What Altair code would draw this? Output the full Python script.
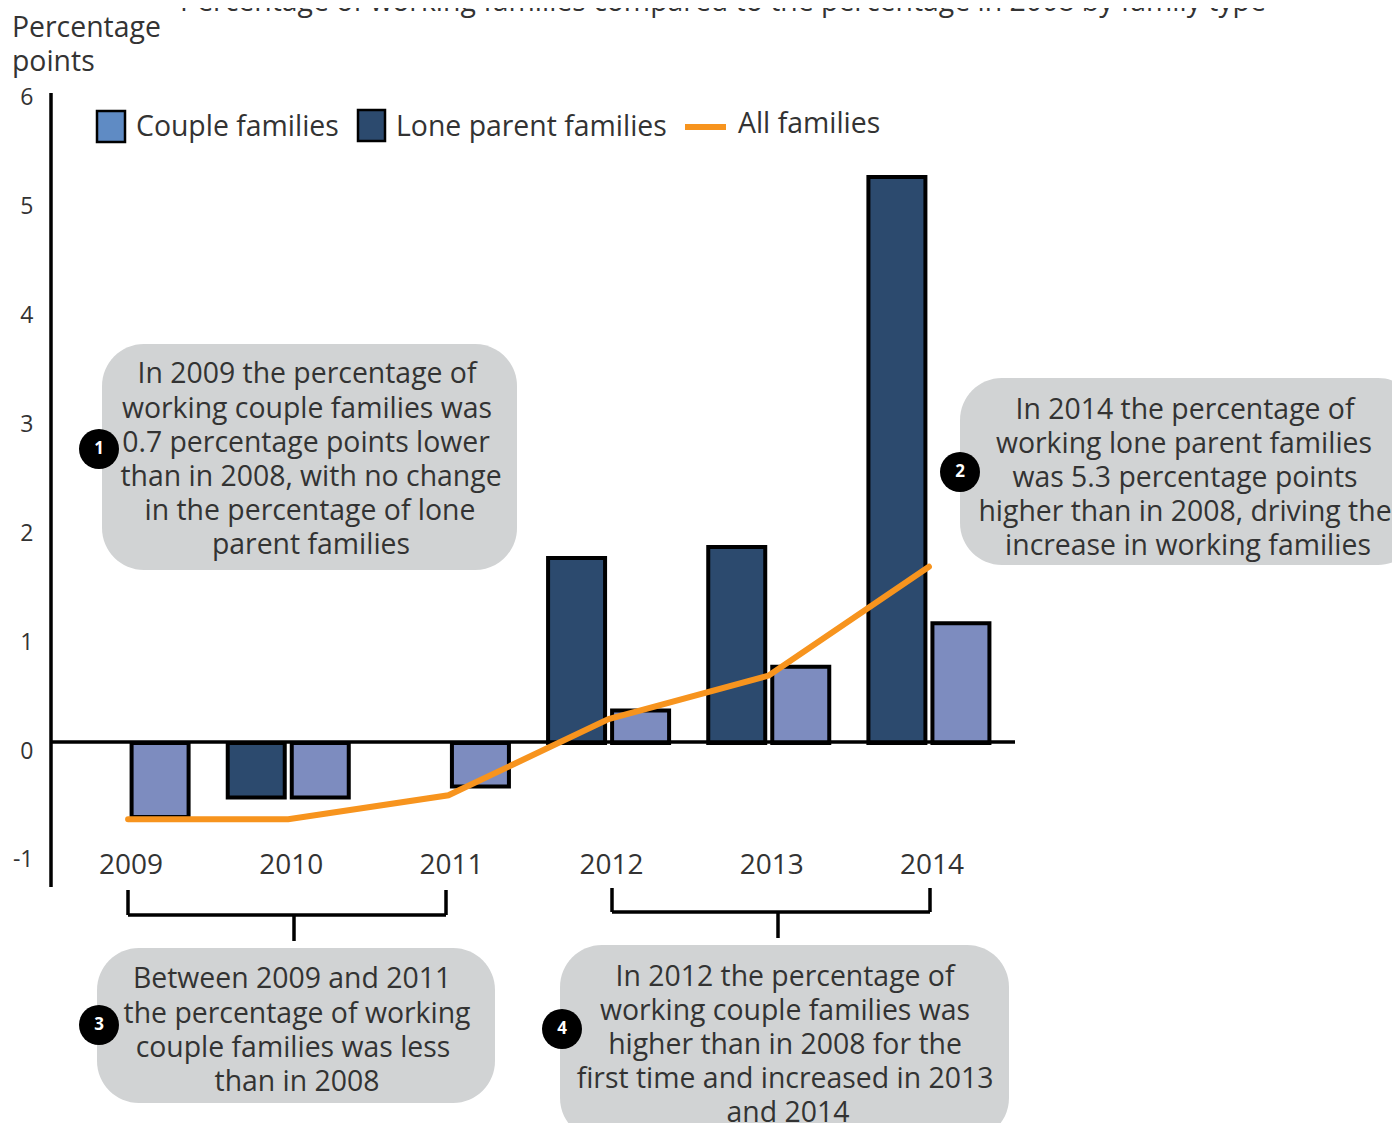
import altair as alt
import pandas as pd

years = ["2009", "2010", "2011", "2012", "2013", "2014"]
couple = [-0.68, -0.5, -0.4, 0.3, 0.7, 1.1]
lone = [0.0, -0.5, 0.0, 1.7, 1.8, 5.2]
all_families = [-0.7, -0.7, -0.48, 0.22, 0.62, 1.62]
series_names = ["Lone parent families", "Couple families"]

title_text = "Percentage of working families compared to the percentage in 2008 by family type"
y_title_lines = ["Percentage", "points"]

FONT = "Open Sans"
INK = "#333333"
LEFT, TOP = 40, 71
OX, OY = LEFT + 8, TOP + 8


def px(v):
    return v - OX


def py(v):
    return v - OY


one = pd.DataFrame({"a": [0]})

bars_df = pd.DataFrame({
    "year": years * 2,
    "family": [series_names[0]] * 6 + [series_names[1]] * 6,
    "value": lone + couple,
})
bars_df = bars_df[bars_df["value"] != 0]
line_df = pd.DataFrame({"year": years, "value": all_families})

x_enc = alt.X("year:N", title=None, sort=years,
              scale=alt.Scale(domain=years, paddingInner=0, paddingOuter=0),
              axis=alt.Axis(domain=False, ticks=False, labelAngle=0, labelFont=FONT, labelFontSize=28,
                            labelColor=INK, labelOffset=3, offset=-39, labelPadding=0, grid=False))
y_scale = alt.Scale(domain=[-1.35, 6.1], nice=False, zero=False)
y_axis = alt.Axis(domain=False, ticks=False, grid=False, values=[-1, 0, 1, 2, 3, 4, 5, 6],
                  labelExpr="'' + datum.value",
                  labelFont=FONT, labelFontSize=23, labelColor=INK, labelOffset=8, labelPadding=15)


def box(x0, x1, y0, y1, r=0, fill="#d1d3d4", stroke=None, sw=0):
    kw = {"fill": fill}
    if r:
        kw["cornerRadius"] = r
    if stroke:
        kw["stroke"] = stroke
        kw["strokeWidth"] = sw
    return alt.Chart(one).mark_rect(**kw).encode(
        x=alt.value(px(x0)), x2=alt.value(px(x1)), y=alt.value(py(y0)), y2=alt.value(py(y1)))


def label(x, y, text, align="center", size=28.4, color=INK, weight="normal"):
    return alt.Chart(one).mark_text(text=text, align=align, baseline="middle", font=FONT, fontSize=size,
                                    color=color, fontWeight=weight).encode(
        x=alt.value(px(x)), y=alt.value(py(y + 2)))


def seg(x0, y0, x1, y1, color="black", sw=3.5):
    return alt.Chart(one).mark_rule(color=color, strokeWidth=sw).encode(
        x=alt.value(px(x0)), x2=alt.value(px(x1)), y=alt.value(py(y0)), y2=alt.value(py(y1)))


def badge(x, y, n):
    dot = alt.Chart(one).mark_point(filled=True, color="black", opacity=1, size=1600, shape="circle").encode(
        x=alt.value(px(x)), y=alt.value(py(y)))
    return [dot, label(x, y - 2, n, size=17, color="white", weight="bold")]


layers = []
# speech bubbles
layers += [box(102, 517, 344, 570, 42), box(960, 1420, 378, 565, 42),
           box(97, 495, 948, 1103, 42), box(560, 1009, 945, 1140, 42)]

# bars
bars = alt.Chart(bars_df).mark_bar(stroke="black", strokeWidth=4, size=57).encode(
    x=x_enc,
    xOffset=alt.XOffset("family:N", sort=series_names,
                        scale=alt.Scale(domain=series_names, paddingInner=0.094, paddingOuter=0.298)),
    y=alt.Y("value:Q", title=None, scale=y_scale, axis=y_axis),
    color=alt.Color("family:N", legend=None,
                    scale=alt.Scale(domain=series_names, range=["#2c4a6e", "#7d8cbf"])),
)
layers.append(bars)

# axis lines
layers += [seg(51, 93, 51, 887), seg(51, 742, 1015, 742)]

# line
line = alt.Chart(line_df).mark_line(color="#f7941e", strokeWidth=6, strokeCap="round").encode(
    x=x_enc, y=alt.Y("value:Q", title=None, scale=y_scale, axis=y_axis))
layers.append(line)

# title and y title
layers.append(label(723, 0, title_text))
layers += [label(12, 26, y_title_lines[0], align="left"), label(12, 60, y_title_lines[1], align="left")]

# legend
layers += [box(97, 125, 111, 142, fill="#5f8bc4", stroke="black", sw=2.5),
           label(136, 125, "Couple families", align="left"),
           box(358, 385, 110, 141, fill="#2c4a6e", stroke="black", sw=2.5),
           label(396, 125, "Lone parent families", align="left"),
           seg(685, 127, 726, 127, color="#f7941e", sw=6),
           label(738, 122, "All families", align="left")]

# brackets
layers += [seg(128, 890, 128, 915), seg(128, 915, 446, 915), seg(446, 890, 446, 915), seg(294, 915, 294, 941),
           seg(612, 888, 612, 912), seg(612, 912, 930, 912), seg(930, 888, 930, 912), seg(778, 912, 778, 938)]

# annotation text
for x, y, t in [
    (307, 372, "In 2009 the percentage of"), (307, 407, "working couple families was"),
    (306, 441, "0.7 percentage points lower"), (311, 475, "than in 2008, with no change"),
    (310, 509, "in the percentage of lone"), (311, 543, "parent families"),
    (1185, 408, "In 2014 the percentage of"), (1184, 442, "working lone parent families"),
    (1185, 476, "was 5.3 percentage points"), (1185, 510, "higher than in 2008, driving the"),
    (1188, 544, "increase in working families"),
    (292, 977, "Between 2009 and 2011"), (297, 1012, "the percentage of working"),
    (293, 1046, "couple families was less"), (297, 1080, "than in 2008"),
    (785, 975, "In 2012 the percentage of"), (785, 1009, "working couple families was"),
    (785, 1043, "higher than in 2008 for the"), (785, 1077, "first time and increased in 2013"),
    (788, 1111, "and 2014"),
]:
    layers.append(label(x, y, t))

# number badges
layers += badge(99, 449, "1") + badge(960, 472, "2") + badge(99, 1025, "3") + badge(562, 1029, "4")

chart = alt.layer(*layers).properties(
    width=961, height=811,
    padding={"left": LEFT, "top": TOP, "right": 383, "bottom": 240},
    autosize=alt.AutoSizeParams(type="none"),
    background="white",
).configure_view(stroke=None)

chart.save("out.html", embed_options={"renderer": "svg", "actions": False})
